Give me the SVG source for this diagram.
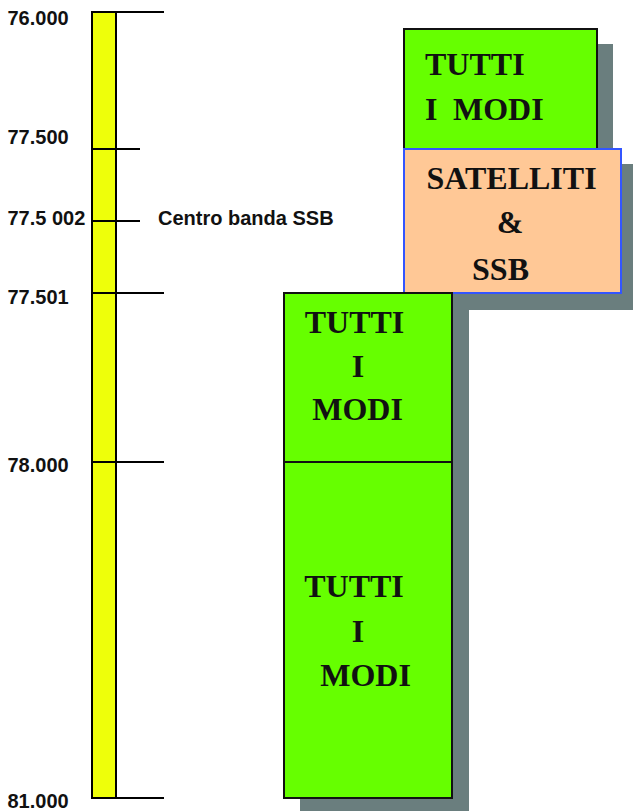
<svg xmlns="http://www.w3.org/2000/svg" width="633" height="811" viewBox="0 0 633 811">
<style>
.lbl{font-family:"Liberation Sans",Arial,sans-serif;font-weight:bold;font-size:20px;fill:#111}
.bt{font-family:"Liberation Serif","Times New Roman",serif;font-weight:bold;font-size:32px;fill:#111}
.tick{stroke:#000;stroke-width:2}
.shadow{fill:#6a7e7e}
.green{fill:#66ff00;stroke:#111;stroke-width:2}
</style>
<rect width="633" height="811" fill="#fff"/>
<g id="scale">
<rect x="92" y="12" width="24" height="786" fill="#eeff0a" stroke="#000" stroke-width="2"/>
</g>
<g id="ticks">
<line class="tick" x1="116" y1="12" x2="164" y2="12"/>
<line class="tick" x1="92" y1="149" x2="140" y2="149"/>
<line class="tick" x1="92" y1="221" x2="140" y2="221"/>
<line class="tick" x1="92" y1="293" x2="164" y2="293"/>
<line class="tick" x1="92" y1="462" x2="164" y2="462"/>
<line class="tick" x1="92" y1="798" x2="164" y2="798"/>
</g>
<g id="labels">
<text class="lbl" x="7.5" y="25">76.000</text>
<text class="lbl" x="7.5" y="144">77.500</text>
<text class="lbl" x="7.5" y="225">77.5 002</text>
<text class="lbl" x="158" y="225" style="font-size:20px">Centro banda SSB</text>
<text class="lbl" x="7.5" y="304">77.501</text>
<text class="lbl" x="7.5" y="472">78.000</text>
<text class="lbl" x="7.5" y="808">81.000</text>
</g>
<g id="shadows">
<rect class="shadow" x="420" y="44" width="193" height="110"/>
<rect class="shadow" x="420" y="164" width="217" height="146"/>
<rect class="shadow" x="300" y="308" width="169" height="510"/>
</g>
<g id="box-top">
<rect class="green" x="404" y="29" width="193" height="120"/>
<text class="bt" x="425" y="75">TUTTI</text>
<text class="bt" x="425" y="120">I</text>
<text class="bt" x="453" y="120">MODI</text>
</g>
<g id="box-satelliti">
<rect x="404" y="149" width="217" height="144" fill="#ffc896" stroke="#3355ff" stroke-width="2"/>
<text class="bt" x="511.5" y="189" text-anchor="middle">SATELLITI</text>
<text class="bt" x="510" y="233" text-anchor="middle">&amp;</text>
<text class="bt" x="500.5" y="280" text-anchor="middle">SSB</text>
</g>
<g id="box-mid">
<rect class="green" x="284" y="293" width="168" height="169"/>
<text class="bt" x="354.5" y="333" text-anchor="middle">TUTTI</text>
<text class="bt" x="358" y="377" text-anchor="middle">I</text>
<text class="bt" x="357.5" y="420" text-anchor="middle">MODI</text>
</g>
<g id="box-low">
<rect class="green" x="284" y="462" width="168" height="336"/>
<text class="bt" x="354" y="597" text-anchor="middle">TUTTI</text>
<text class="bt" x="358" y="642" text-anchor="middle">I</text>
<text class="bt" x="365.5" y="686" text-anchor="middle">MODI</text>
</g>
</svg>
